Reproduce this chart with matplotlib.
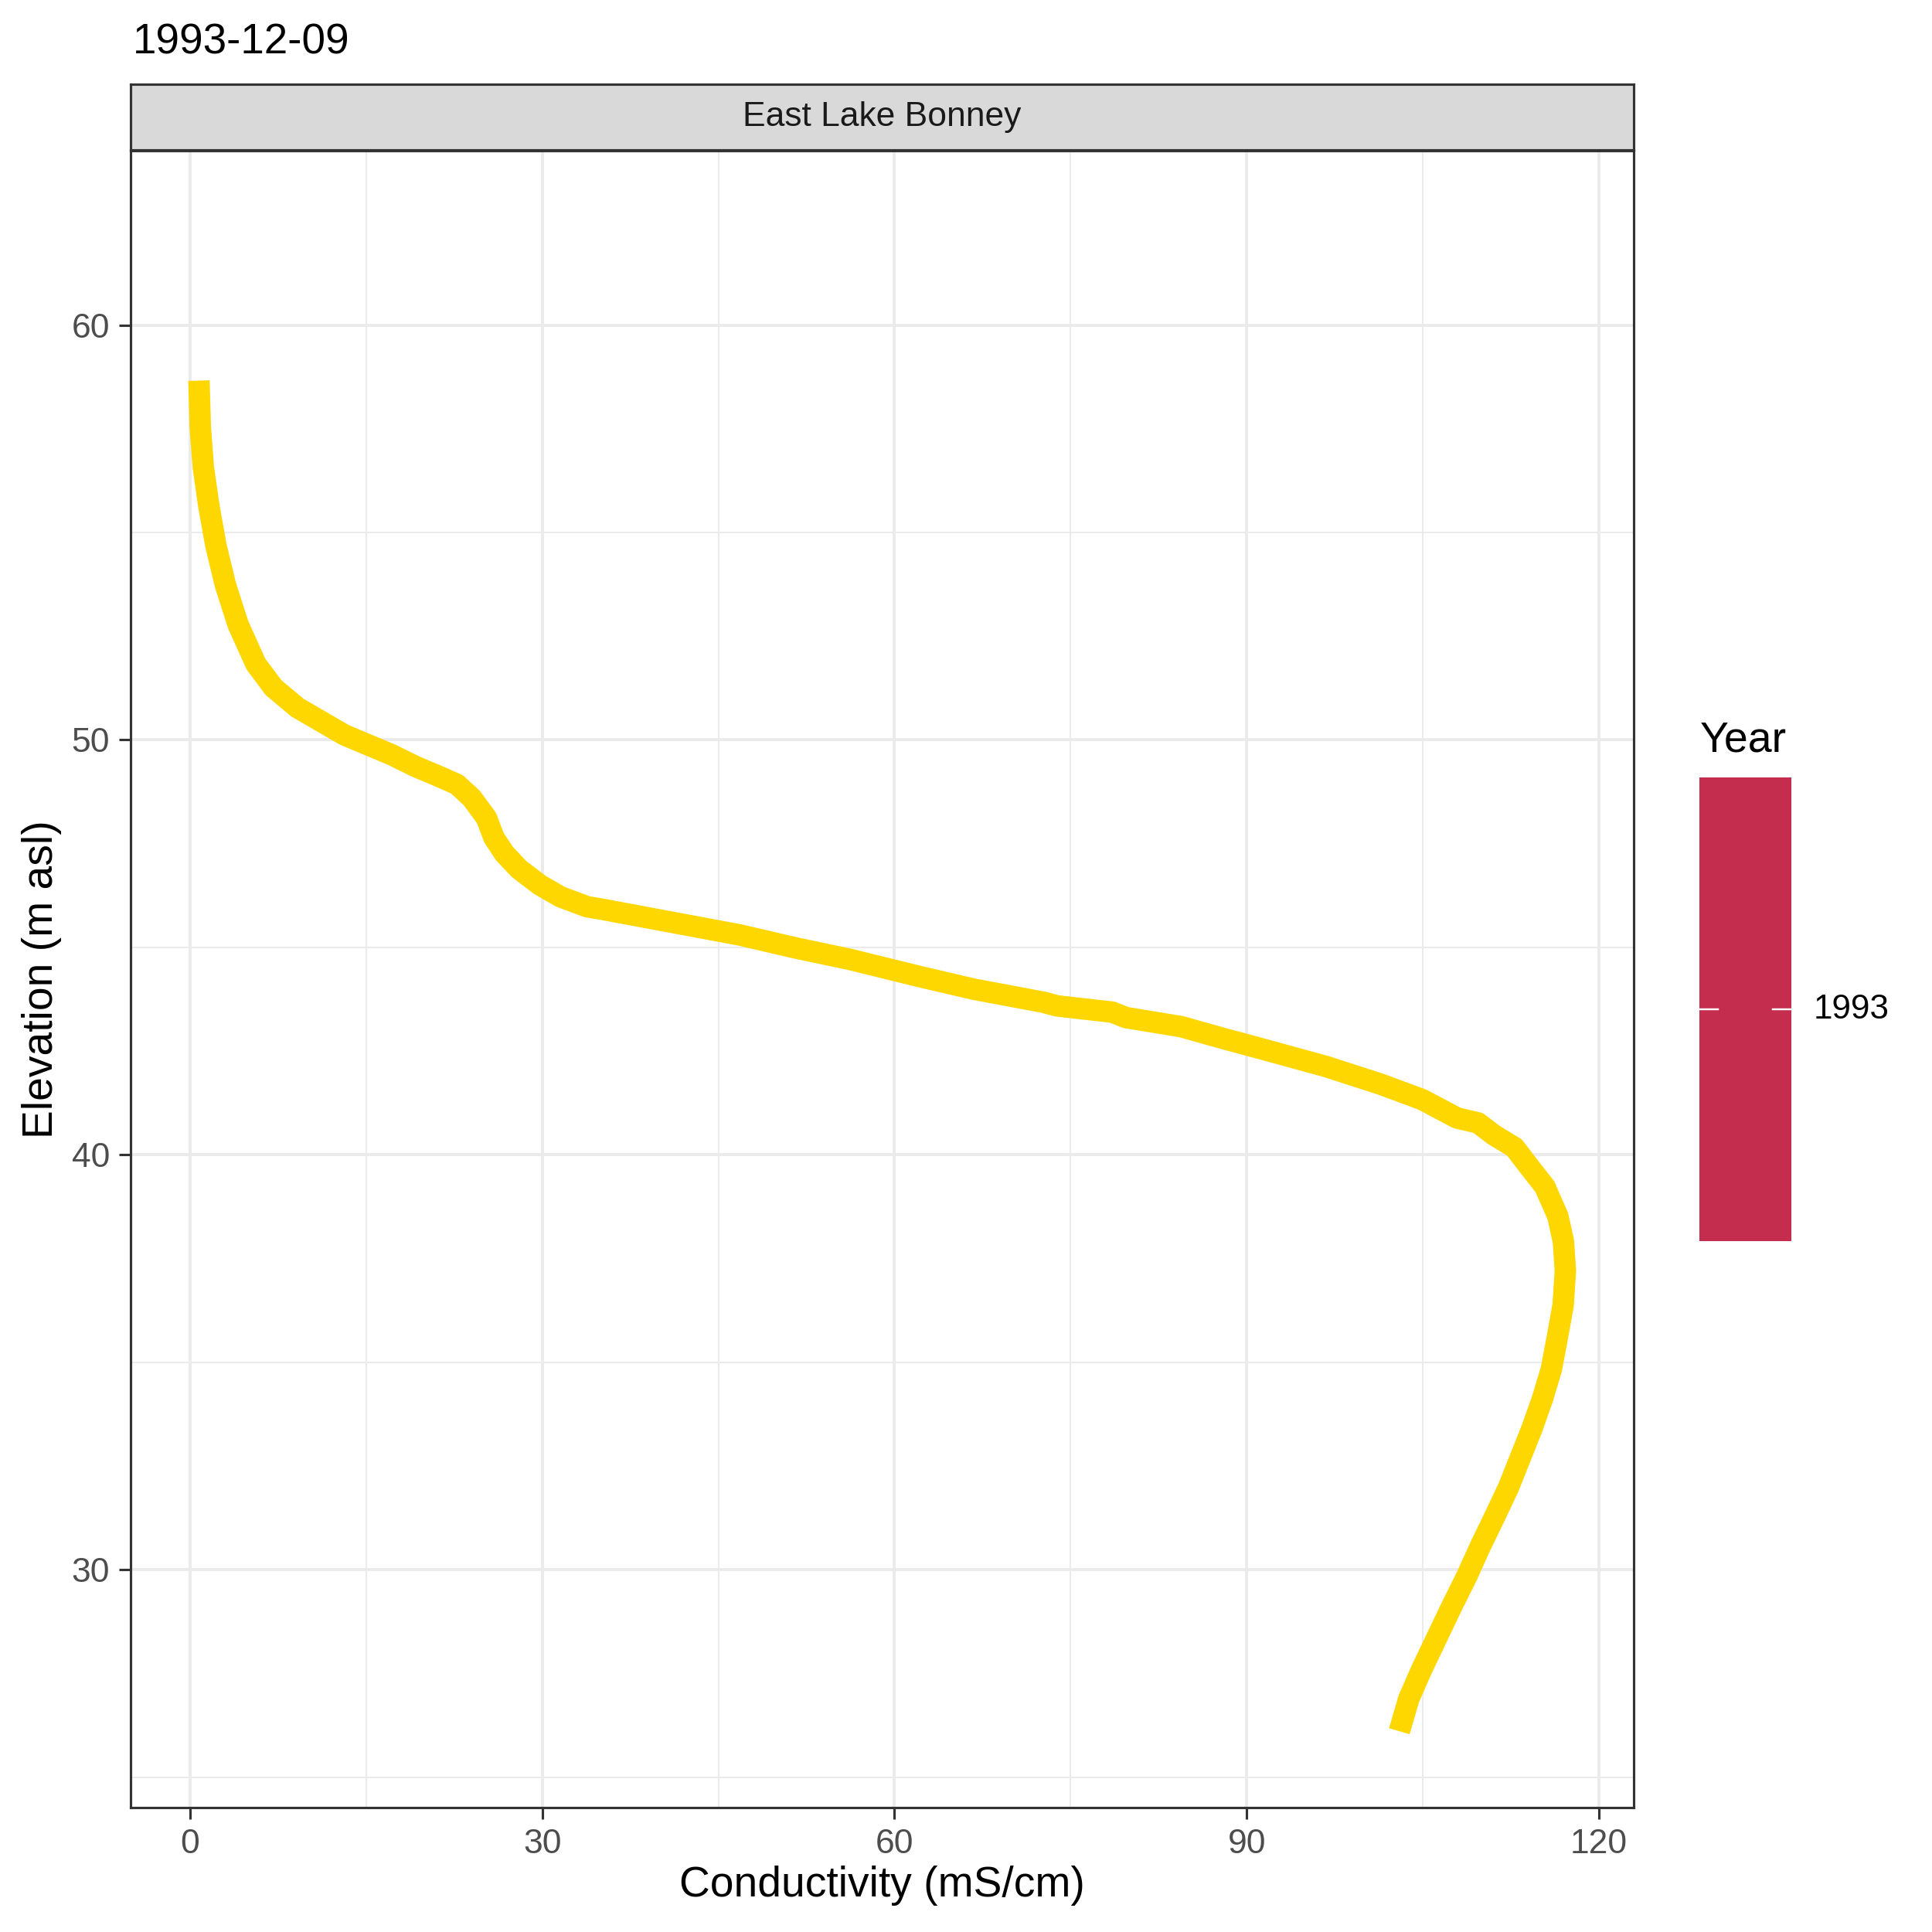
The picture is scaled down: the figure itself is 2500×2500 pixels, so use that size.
import numpy as np
import matplotlib
matplotlib.use("Agg")
import matplotlib.pyplot as plt

plt.rcParams['font.family'] = ['Liberation Sans', 'DejaVu Sans']

# conductivity profile, East Lake Bonney, 1993-12-09
conductivity = [0.76, 0.88, 1.13, 1.61, 2.21, 3.02, 4.1, 5.61, 7.12, 9.14,
                11.15, 13.16, 15.18, 17.2, 19.21, 21.22, 22.74, 24.0, 25.25, 25.88,
                26.76, 28.02, 29.78, 31.55, 33.82, 35.08, 40.96, 46.83, 51.53, 56.22,
                62.1, 66.8, 72.67, 73.85, 78.55, 79.7, 84.42, 87.94, 90.3, 91.47,
                96.75, 101.45, 104.97, 107.9, 109.7, 111.05, 112.8, 114.1, 115.4, 116.5,
                116.97, 117.14, 116.95, 116.5, 115.95, 115.2, 114.3, 113.3, 112.3, 111.1,
                109.9, 108.75, 107.5, 106.1, 104.9, 103.8, 103.0]
elevation = [58.66, 57.52, 56.58, 55.63, 54.68, 53.73, 52.78, 51.83, 51.26, 50.78,
             50.45, 50.12, 49.88, 49.64, 49.36, 49.12, 48.93, 48.6, 48.12, 47.65,
             47.27, 46.89, 46.51, 46.22, 45.98, 45.92, 45.61, 45.30, 44.99, 44.71,
             44.30, 43.99, 43.68, 43.59, 43.44, 43.31, 43.09, 42.81, 42.63, 42.54,
             42.13, 41.70, 41.33, 40.89, 40.77, 40.48, 40.18, 39.70, 39.23, 38.52,
             37.92, 37.21, 36.38, 35.67, 34.84, 34.13, 33.41, 32.70, 31.99, 31.27,
             30.57, 29.85, 29.14, 28.31, 27.60, 26.89, 26.11]

x_ticks = [0, 30, 60, 90, 120]
y_ticks = [30, 40, 50, 60]
year_label = "1993"
lake = "East Lake Bonney"
date_title = "1993-12-09"

line_col = '#FFD700'
year_col = '#C42D4E'
grid_col = '#EBEBEB'
dark = '#333333'

fig = plt.figure(figsize=(10, 10), dpi=250)
L, B, R, T = 0.0676, 0.0644, 0.8456, 0.9222
ax = fig.add_axes([L, B, R - L, T - B])

ax.plot(conductivity, elevation, color=line_col, lw=8.0,
        solid_capstyle='butt', solid_joinstyle='round', zorder=3)

xr = max(conductivity) - min(conductivity)
ax.set_xlim(min(conductivity) - 0.05 * xr, max(conductivity) + 0.05 * xr)
ax.set_ylim(24.27, 64.21)

ax.set_xticks(x_ticks)
ax.set_yticks(y_ticks)
ax.set_xticks([15, 45, 75, 105], minor=True)
ax.set_yticks([25, 35, 45, 55], minor=True)
ax.grid(which='major', color=grid_col, lw=1.15, zorder=0)
ax.grid(which='minor', color=grid_col, lw=0.6, zorder=0)
ax.set_axisbelow(True)
ax.tick_params(which='major', length=4.3, width=0.9, color=dark,
               labelsize=12.8, labelcolor='#4D4D4D', pad=3.5)
ax.tick_params(which='minor', length=0)
for s in ax.spines.values():
    s.set_color(dark)
    s.set_linewidth(0.9)

fig.text(0.5 * (L + R), 0.024, "Conductivity (mS/cm)", fontsize=15.9,
         ha='center', va='center')
fig.text(0.0216, 0.5 * (B + T), "Elevation (m asl)", fontsize=15.9,
         ha='center', va='center', rotation=90)

# facet strip
sax = fig.add_axes([L, 0.9225, R - L, 0.9566 - 0.9225])
sax.set_facecolor('#D9D9D9')
sax.set_xticks([])
sax.set_yticks([])
for s in sax.spines.values():
    s.set_color(dark)
    s.set_linewidth(0.9)
sax.text(0.5, 0.5, lake, transform=sax.transAxes, ha='center', va='center',
         fontsize=12.8, color='#1A1A1A')

fig.text(0.0688, 0.9724, date_title, fontsize=15.8, va='baseline')

# Year legend bar
lax = fig.add_axes([0.8796, 0.3576, 0.0476, 0.24])
lax.set_facecolor(year_col)
lax.set_xlim(0, 1)
lax.set_ylim(0, 1)
lax.set_xticks([])
lax.set_yticks([])
for s in lax.spines.values():
    s.set_visible(False)
lax.plot([0, 0.2], [0.5, 0.5], color='white', lw=0.7)
lax.plot([0.8, 1], [0.5, 0.5], color='white', lw=0.7)
fig.text(0.88, 0.611, "Year", fontsize=16, va='baseline')
fig.text(0.9388, 0.4776, year_label, fontsize=12.7, va='center')

fig.savefig("out.png", dpi=250)
